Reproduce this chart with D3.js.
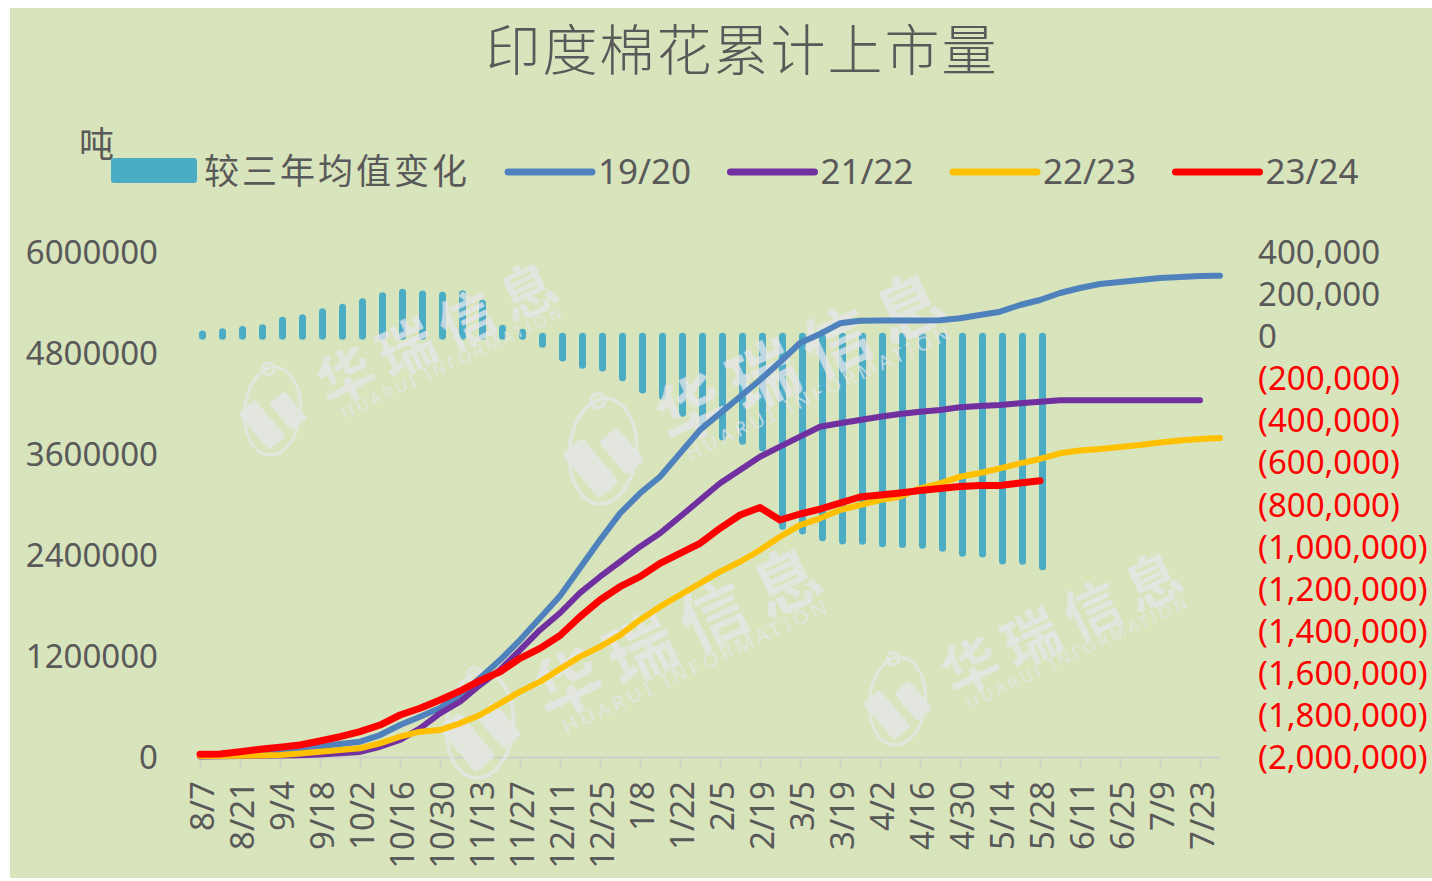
<!DOCTYPE html>
<html>
<head>
<meta charset="utf-8">
<script src="https://cdn.jsdelivr.net/npm/d3@7"></script>
<style>
  body { margin: 0; background: #ffffff; }
  text { font-family: "Noto Sans", "Noto Sans CJK SC", sans-serif; }
</style>
</head>
<body>
<div id="chart"></div>
<script>
// Chart size
var svgWidth = 1432;
var svgHeight = 881;

// Weekly categories, 8/7 .. 7/30
var dates = ["8/7","8/14","8/21","8/28","9/4","9/11","9/18","9/25","10/2","10/9",
  "10/16","10/23","10/30","11/6","11/13","11/20","11/27","12/4","12/11","12/18",
  "12/25","1/1","1/8","1/15","1/22","1/29","2/5","2/12","2/19","2/26",
  "3/5","3/12","3/19","3/26","4/2","4/9","4/16","4/23","4/30","5/7",
  "5/14","5/21","5/28","6/4","6/11","6/18","6/25","7/2","7/9","7/16",
  "7/23","7/30"];

// Change vs three-year average (right axis), tonnes
var change3yr = [10000, 21000, 32000, 40000, 76000, 88000, 116000, 137000, 164000, 192000,
  209000, 200000, 194000, 202000, 156000, 38000, 19000, -38000, -104000, -138000,
  -151000, -198000, -256000, -285000, -366000, -420000, -479000, -499000, -532000, -903000,
  -926000, -958000, -974000, -975000, -986000, -990000, -994000, -1008000, -1032000, -1035000,
  -1069000, -1070000, -1096000];

// Cumulative arrivals (left axis), tonnes
var s1920 = [20000, 35000, 50000, 60000, 75000, 85000, 122000, 155000, 182000, 261000,
  380000, 479000, 582000, 737000, 939000, 1152000, 1390000, 1651000, 1913000, 2246000,
  2578000, 2895000, 3133000, 3330000, 3608000, 3885000, 4083000, 4281000, 4479000, 4693000,
  4919000, 5026000, 5153000, 5184000, 5186000, 5186000, 5186000, 5188000, 5212000, 5251000,
  5291000, 5370000, 5430000, 5513000, 5572000, 5620000, 5644000, 5667000, 5691000, 5703000,
  5715000, 5718000];
var s2122 = [5000, 8000, 12000, 15000, 18000, 22000, 30000, 45000, 60000, 122000,
  202000, 341000, 519000, 657000, 855000, 1034000, 1271000, 1509000, 1711000, 1950000,
  2142000, 2320000, 2499000, 2658000, 2855000, 3053000, 3252000, 3410000, 3568000, 3687000,
  3806000, 3924000, 3965000, 4004000, 4043000, 4075000, 4103000, 4123000, 4155000, 4170000,
  4182000, 4202000, 4221000, 4238000, 4240000, 4240000, 4240000, 4240000, 4240000, 4240000,
  4240000];
var s2223 = [12000, 12000, 15000, 18000, 24000, 42000, 63000, 83000, 103000, 163000,
  241000, 301000, 321000, 400000, 499000, 638000, 776000, 895000, 1046000, 1192000,
  1310000, 1449000, 1628000, 1786000, 1925000, 2064000, 2202000, 2320000, 2459000, 2617000,
  2756000, 2836000, 2935000, 2994000, 3053000, 3093000, 3192000, 3252000, 3330000, 3374000,
  3430000, 3489000, 3541000, 3608000, 3641000, 3659000, 3683000, 3707000, 3737000, 3760000,
  3778000, 3790000];
var s2324 = [32000, 36000, 63000, 91000, 115000, 143000, 190000, 241000, 301000, 380000,
  499000, 579000, 677000, 784000, 907000, 1013000, 1173000, 1291000, 1444000, 1667000,
  1865000, 2023000, 2142000, 2301000, 2420000, 2539000, 2717000, 2875000, 2964000, 2816000,
  2887000, 2946000, 3018000, 3089000, 3113000, 3137000, 3166000, 3190000, 3214000, 3226000,
  3226000, 3255000, 3283000];

var leftTicks = [0, 1200000, 2400000, 3600000, 4800000, 6000000];
var rightTicks = [400000, 200000, 0, -200000, -400000, -600000, -800000, -1000000,
  -1200000, -1400000, -1600000, -1800000, -2000000];

var seriesNames = ["19/20", "21/22", "22/23", "23/24"];
var seriesColors = ["#4F81BD", "#7030A0", "#FFC000", "#FF0000"];
var barName = "较三年均值变化";
var barColor = "#4BACC6";
var textColor = "#595959";

var svg = d3.select("#chart")
  .append("svg")
  .attr("width", svgWidth)
  .attr("height", svgHeight);

// chart background
svg.append("rect")
  .attr("x", 10).attr("y", 8)
  .attr("width", svgWidth - 10).attr("height", 870)
  .attr("fill", "#D8E4BC");

// Scales
var x = d3.scalePoint().domain(dates).range([200, 1220]);
var yL = d3.scaleLinear().domain([0, 6000000]).range([757, 252]);
var yR = d3.scaleLinear().domain([-2000000, 400000]).range([757, 252]);

// Title
svg.append("text")
  .attr("x", 742).attr("y", 48)
  .attr("text-anchor", "middle")
  .attr("dominant-baseline", "central")
  .attr("font-size", 55)
  .attr("font-weight", 300)
  .attr("letter-spacing", 2)
  .attr("fill", textColor)
  .text("印度棉花累计上市量");

// Unit
svg.append("text")
  .attr("x", 79).attr("y", 143)
  .attr("dominant-baseline", "central")
  .attr("font-size", 35)
  .attr("fill", textColor)
  .text("吨");

// Legend
svg.append("rect")
  .attr("x", 111).attr("y", 158)
  .attr("width", 86).attr("height", 25)
  .attr("rx", 3)
  .attr("fill", barColor);
svg.append("text")
  .attr("x", 204).attr("y", 170)
  .attr("dominant-baseline", "central")
  .attr("font-size", 35)
  .attr("letter-spacing", 3)
  .attr("fill", textColor)
  .text(barName);

var legend = svg.append("g").selectAll("g")
  .data(seriesNames)
  .enter()
  .append("g")
  .attr("transform", (d, i) => `translate(${508 + i * 222.5}, 172)`);
legend.append("line")
  .attr("x1", 0).attr("x2", 84)
  .attr("stroke", (d, i) => seriesColors[i])
  .attr("stroke-width", 7)
  .attr("stroke-linecap", "round");
legend.append("text")
  .attr("x", 90).attr("y", -2)
  .attr("dominant-baseline", "central")
  .attr("font-size", 35)
  .attr("fill", textColor)
  .text(d => d);

// Left axis
var leftAxis = d3.axisLeft(yL).tickValues(leftTicks).tickSize(0).tickPadding(0)
  .tickFormat(d3.format("d"));
var gL = svg.append("g").attr("transform", "translate(158,0)").call(leftAxis);
gL.select(".domain").remove();
gL.selectAll("text")
  .attr("font-size", 33)
  .attr("fill", textColor)
  .attr("dy", "0.35em");

// Right axis
var rightAxis = d3.axisRight(yR).tickValues(rightTicks).tickSize(0).tickPadding(0)
  .tickFormat(d => d < 0 ? "(" + d3.format(",")(-d) + ")" : d3.format(",")(d));
var gR = svg.append("g").attr("transform", "translate(1258,0)").call(rightAxis);
gR.select(".domain").remove();
gR.selectAll("text")
  .attr("font-size", 33)
  .attr("dy", "0.35em")
  .attr("fill", d => d < 0 ? "#FF0000" : textColor);

// Bottom axis
var bottomAxis = d3.axisBottom(x)
  .tickValues(dates.filter((d, i) => i % 2 === 0 && i < 51))
  .tickSizeInner(10).tickSizeOuter(0);
var gX = svg.append("g").attr("transform", `translate(0, ${yL(0)})`).call(bottomAxis);
gX.select(".domain").attr("stroke", "#D0D0C8").attr("stroke-width", 2);
gX.selectAll(".tick line").attr("stroke", "#D0D0C8").attr("stroke-width", 2);
gX.selectAll("text")
  .attr("font-size", 33)
  .attr("fill", textColor)
  .attr("text-anchor", "end")
  .attr("transform", "translate(2, 24) rotate(-90)")
  .attr("x", 0).attr("y", 0)
  .attr("dy", "0.35em");

// Bars (change vs three-year average)
svg.append("g").selectAll("line")
  .data(change3yr)
  .enter()
  .append("line")
  .attr("x1", (d, i) => x(dates[i]) + 2.5)
  .attr("x2", (d, i) => x(dates[i]) + 2.5)
  .attr("y1", d => yR(0))
  .attr("y2", d => yR(d))
  .attr("stroke", barColor)
  .attr("stroke-width", 7)
  .attr("stroke-linecap", "round");

// Watermarks
var marks = [
  {x: 345, y: 375, s: 1.0},
  {x: 690, y: 408, s: 1.2},
  {x: 567, y: 682, s: 1.2},
  {x: 970, y: 665, s: 1.0}
];
var wmColor = "#E6E7EA";
var wm = svg.append("g").attr("opacity", 0.75).selectAll("g")
  .data(marks)
  .enter()
  .append("g")
  .attr("transform", d => `translate(${d.x},${d.y}) scale(${d.s}) rotate(-25)`);
wm.append("text")
  .attr("x", -28).attr("y", 0)
  .attr("dominant-baseline", "central")
  .attr("font-size", 56)
  .attr("font-weight", "bold")
  .attr("letter-spacing", 11)
  .attr("fill", wmColor)
  .text("华瑞信息");
wm.append("text")
  .attr("x", -19).attr("y", 33)
  .attr("dominant-baseline", "central")
  .attr("font-size", 17)
  .attr("letter-spacing", 3.2)
  .attr("fill", wmColor)
  .text("HUARUI INFORMATION");
var logo = wm.append("g").attr("transform", "translate(-81,2)");
logo.append("ellipse")
  .attr("rx", 44).attr("ry", 28)
  .attr("transform", "rotate(-60)")
  .attr("fill", "none")
  .attr("stroke", wmColor)
  .attr("stroke-width", 3);
logo.append("circle")
  .attr("cx", 14).attr("cy", -40).attr("r", 6)
  .attr("fill", "none")
  .attr("stroke", wmColor)
  .attr("stroke-width", 3);
logo.append("rect")
  .attr("x", -28).attr("y", -20).attr("width", 22).attr("height", 48).attr("rx", 3)
  .attr("transform", "rotate(-15)")
  .attr("fill", wmColor);
logo.append("rect")
  .attr("x", 2).attr("y", -8).attr("width", 20).attr("height", 36).attr("rx", 3)
  .attr("transform", "rotate(-15)")
  .attr("fill", wmColor);

// Lines
var allSeries = [s1920, s2122, s2223, s2324];
var line = d3.line()
  .x((d, i) => x(dates[i]))
  .y(d => yL(d));
svg.append("g").selectAll("path")
  .data(allSeries)
  .enter()
  .append("path")
  .attr("d", d => line(d))
  .attr("fill", "none")
  .attr("stroke", (d, i) => seriesColors[i])
  .attr("stroke-width", (d, i) => i === 3 ? 7 : 6)
  .attr("stroke-linejoin", "round")
  .attr("stroke-linecap", "round");
</script>
</body>
</html>
